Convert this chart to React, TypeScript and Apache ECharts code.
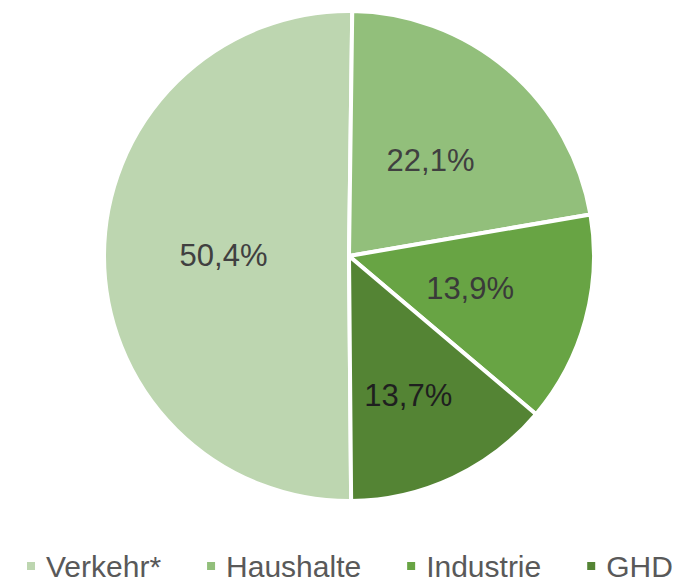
import React, { useEffect, useRef } from "react";
import * as echarts from "echarts";

const categories = ["Verkehr*", "Haushalte", "Industrie", "GHD"];
const values = [50.4, 22.1, 13.9, 13.7];
const labels = ["50,4%", "22,1%", "13,9%", "13,7%"];
const colors = ["#bdd6b0", "#92bf7b", "#68a444", "#548434"];
const labelColors = ["#404040", "#404040", "#3a3a3a", "#1f1f1f"];

export default function App() {
  const ref = useRef<HTMLDivElement>(null);
  useEffect(() => {
    if (!ref.current) return;
    const chart = echarts.init(ref.current, null, { renderer: "svg" });
    const font = "Liberation Sans, Arial, sans-serif";
    chart.setOption({
      animation: false,
      backgroundColor: "#ffffff",
      legend: {
        data: categories,
        left: 25,
        top: 551,
        padding: 0,
        itemGap: 44,
        itemWidth: 10,
        itemHeight: 10,
        icon: "rect",
        textStyle: {
          fontFamily: font,
          fontSize: 30,
          color: "#595959",
          lineHeight: 28,
          padding: [0, 0, 0, 5],
        },
      },
      series: [
        {
          type: "pie",
          center: [349, 256],
          radius: [0, 245],
          startAngle: 270.5,
          clockwise: true,
          avoidLabelOverlap: false,
          itemStyle: { borderColor: "#ffffff", borderWidth: 4 },
          label: {
            show: true,
            position: "inside",
            fontFamily: font,
            fontSize: 31,
          },
          labelLine: { show: false },
          emphasis: { disabled: true },
          labelLayout: (p: any) => (p.dataIndex === 3 ? { dx: 6, dy: 26 } : {}),
          data: categories.map((name, i) => ({
            name,
            value: values[i],
            itemStyle: { color: colors[i] },
            label: { formatter: labels[i], color: labelColors[i] },
          })),
        },
      ],
    });
    return () => chart.dispose();
  }, []);
  return (
    <div
      ref={ref}
      style={{ position: "fixed", left: 0, top: 0, width: 688, height: 582 }}
    />
  );
}
